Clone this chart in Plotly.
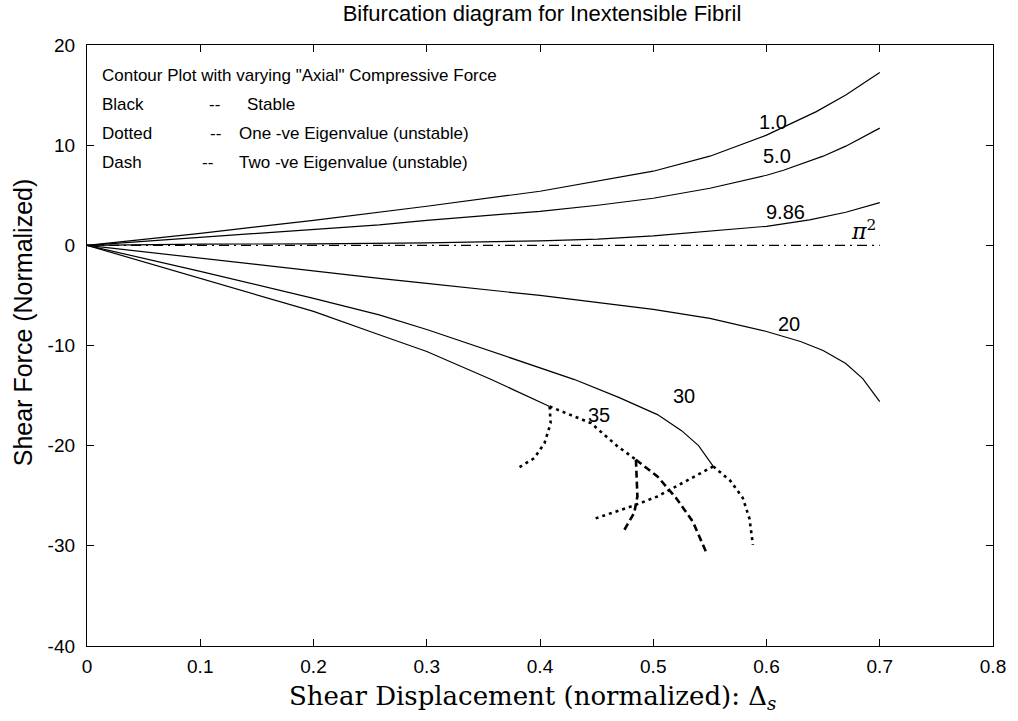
import plotly.graph_objects as go

# ---- data ----
x_f1 = [0.0, 0.1, 0.2, 0.3, 0.4, 0.451, 0.5, 0.55, 0.6, 0.644, 0.67, 0.7]
y_f1 = [0.0, 1.2, 2.5, 3.9, 5.4, 6.4, 7.4, 8.9, 11.0, 13.35, 15.0, 17.25]

x_f5 = [0.0, 0.1, 0.2, 0.258, 0.3, 0.4, 0.451, 0.5, 0.55, 0.6, 0.615, 0.65, 0.67, 0.7]
y_f5 = [0.0, 0.8, 1.6, 2.05, 2.5, 3.4, 4.0, 4.7, 5.7, 7.0, 7.5, 8.9, 9.9, 11.7]

x_f986 = [0.0, 0.1, 0.2, 0.258, 0.3, 0.4, 0.451, 0.5, 0.568, 0.6, 0.638, 0.67, 0.7]
y_f986 = [0.0, 0.12, 0.15, 0.2, 0.25, 0.45, 0.62, 0.95, 1.55, 1.9, 2.55, 3.3, 4.27]

x_pi2 = [0.0, 0.7]
y_pi2 = [0.0, 0.0]

x_f20 = [0.0, 0.1, 0.2, 0.258, 0.3, 0.4, 0.5, 0.55, 0.6, 0.63, 0.65, 0.67, 0.685, 0.7]
y_f20 = [0.0, -1.3, -2.6, -3.3, -3.8, -5.0, -6.4, -7.3, -8.6, -9.6, -10.5, -11.8, -13.3, -15.6]

x_f30 = [0.0, 0.1, 0.2, 0.258, 0.3, 0.35, 0.4, 0.4305, 0.47, 0.5037, 0.525, 0.54, 0.553]
y_f30 = [0.0, -2.6, -5.3, -6.94, -8.4, -10.3, -12.2, -13.4, -15.2, -16.9, -18.5, -20.0, -22.07]

x_f30_dotA = [0.553, 0.568, 0.579, 0.585, 0.588]
y_f30_dotA = [-22.07, -23.5, -25.2, -27.3, -29.9]

x_f30_dotB = [0.553, 0.5037, 0.4847, 0.448]
y_f30_dotB = [-22.07, -25.07, -25.9, -27.3]

x_f35 = [0.0, 0.1, 0.2, 0.258, 0.3, 0.357, 0.4085]
y_f35 = [0.0, -3.3, -6.6, -8.93, -10.6, -13.4, -16.09]

x_f35_dotA = [0.4085, 0.4094, 0.404, 0.395, 0.379]
y_f35_dotA = [-16.09, -17.75, -19.74, -21.24, -22.34]

x_f35_dotB = [0.4085, 0.445, 0.4686, 0.4847]
y_f35_dotB = [-16.09, -17.75, -20.08, -21.4]

x_f35_dashA = [0.4847, 0.5037, 0.52, 0.535, 0.547]
y_f35_dashA = [-21.4, -23.07, -25.2, -27.6, -30.7]

x_f35_dashB = [0.4847, 0.486, 0.4832, 0.473]
y_f35_dashB = [-21.4, -25.07, -26.7, -28.7]

x_ticks = [0, 0.1, 0.2, 0.3, 0.4, 0.5, 0.6, 0.7, 0.8]
x_tick_labels = ["0", "0.1", "0.2", "0.3", "0.4", "0.5", "0.6", "0.7", "0.8"]
y_ticks = [-40, -30, -20, -10, 0, 10, 20]
y_tick_labels = ["-40", "-30", "-20", "-10", "0", "10", "20"]

contour_labels = ["1.0", "5.0", "9.86", "20", "30", "35"]
contour_label_x = [0.606, 0.609, 0.617, 0.620, 0.527, 0.4525]
contour_label_y = [12.3, 8.9, 3.3, -7.9, -15.0, -16.9]

# ---- figure ----
fig = go.Figure()
solid = dict(color="black", width=1.2)
dotted = dict(color="black", width=2.6, dash="3px,4px")
dashed = dict(color="black", width=2.6, dash="7px,4px")

def add(x, y, line):
    fig.add_trace(go.Scatter(x=x, y=y, mode="lines", line=line,
                             showlegend=False, hoverinfo="skip"))

add(x_pi2, y_pi2, dict(color="black", width=1.3, dash="10px,5px,2px,5px"))
add(x_f1, y_f1, solid)
add(x_f5, y_f5, solid)
add(x_f986, y_f986, solid)
add(x_f20, y_f20, solid)
add(x_f30, y_f30, solid)
add(x_f35, y_f35, solid)
add(x_f30_dotA, y_f30_dotA, dotted)
add(x_f30_dotB, y_f30_dotB, dotted)
add(x_f35_dotA, y_f35_dotA, dotted)
add(x_f35_dotB, y_f35_dotB, dotted)
add(x_f35_dashA, y_f35_dashA, dashed)
add(x_f35_dashB, y_f35_dashB, dashed)

font = "Liberation Sans, Arial, sans-serif"
for t, xx, yy in zip(contour_labels, contour_label_x, contour_label_y):
    fig.add_annotation(x=xx, y=yy, text=t, showarrow=False,
                       xanchor="center", yanchor="middle",
                       font=dict(family=font, size=20, color="black"))
fig.add_annotation(x=0.686, y=1.5, text="<i>π</i><sup>2</sup>", showarrow=False,
                   xanchor="center", yanchor="middle",
                   font=dict(family="DejaVu Serif, serif", size=22, color="black"))

W, H = 1018, 721
L, R, T, B = 87, 21, 45, 75
pw, ph = W - L - R, H - T - B

def px2paper(px, py):
    return (px - L) / pw, 1 - (py - T) / ph

# legend-like text block: (text, left pixel, row pixel)
text_items = [
    ("Contour Plot with varying \"Axial\" Compressive Force", 100, 76),
    ("Black", 100, 104), ("--", 208, 104), ("Stable", 246, 104),
    ("Dotted", 100, 133), ("--", 209, 133), ("One -ve Eigenvalue (unstable)", 238, 133),
    ("Dash", 100, 162), ("--", 201, 162), ("Two -ve Eigenvalue (unstable)", 238, 162),
]
for t, px, py in text_items:
    xp, yp = px2paper(px, py)
    fig.add_annotation(x=xp, y=yp, xref="paper", yref="paper", text=t,
                       showarrow=False, xanchor="left", yanchor="middle",
                       font=dict(family=font, size=17, color="black"))

# axis titles as annotations for precise placement
xp, yp = px2paper(534, 697)
fig.add_annotation(x=xp, y=yp, xref="paper", yref="paper",
                   text="Shear Displacement (normalized): Δ<sub><i>s</i></sub>",
                   showarrow=False, xanchor="center", yanchor="middle",
                   font=dict(family="DejaVu Serif, serif", size=26, color="black"))
xp, yp = px2paper(23, 322)
fig.add_annotation(x=xp, y=yp, xref="paper", yref="paper",
                   text="Shear Force (Normalized)", textangle=-90,
                   showarrow=False, xanchor="center", yanchor="middle",
                   font=dict(family=font, size=25, color="black"))

axis_common = dict(showgrid=False, zeroline=False, showline=True, linecolor="black",
                   linewidth=1.3, mirror="ticks", ticks="inside", ticklen=7,
                   tickcolor="black", tickwidth=1.2,
                   tickfont=dict(family=font, size=19, color="black"))
fig.update_xaxes(range=[0, 0.8], tickvals=x_ticks, ticktext=x_tick_labels,
                 ticklabelstandoff=3, **axis_common)
fig.update_yaxes(range=[-40, 20], tickvals=y_ticks, ticktext=y_tick_labels,
                 ticklabelstandoff=7, **axis_common)
fig.update_layout(
    width=W, height=H,
    margin=dict(l=L, r=R, t=T, b=B),
    paper_bgcolor="white", plot_bgcolor="white",
    title=dict(text="Bifurcation diagram for Inextensible Fibril",
               x=(L + pw / 2) / W, xanchor="center", y=1 - 13 / H, yanchor="middle",
               font=dict(family=font, size=22, color="black")),
)
fig.write_html("out.html")
